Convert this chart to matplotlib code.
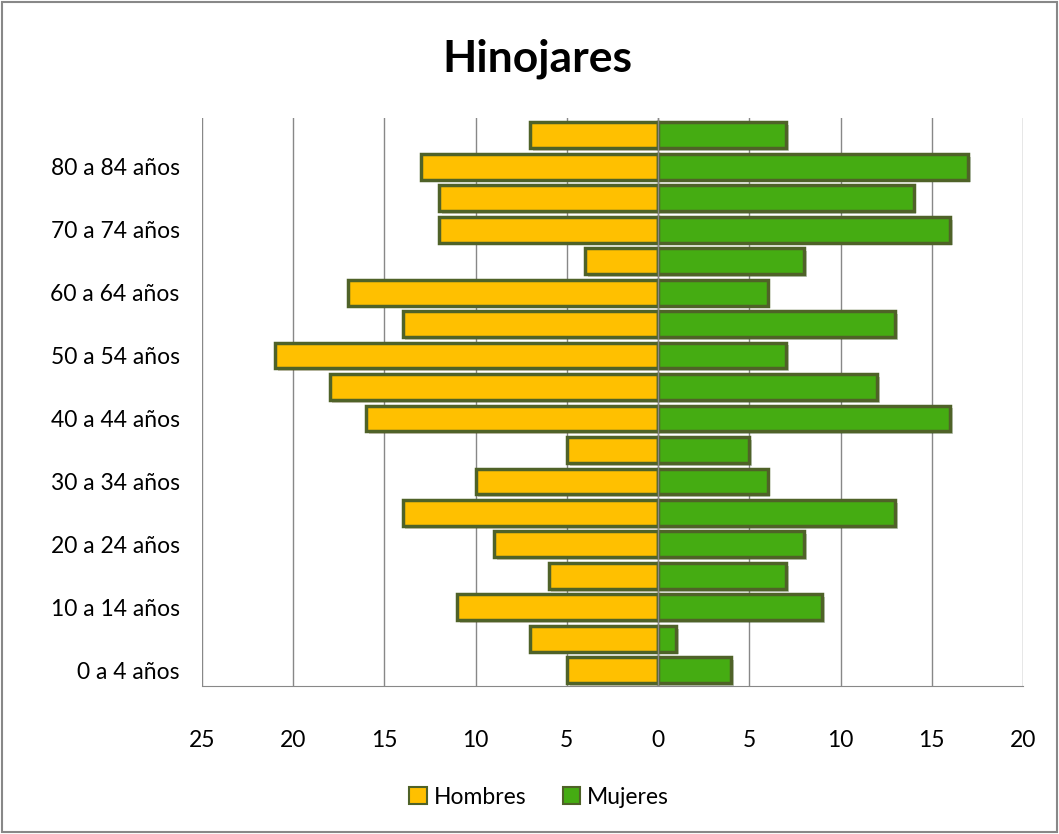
import matplotlib.pyplot as plt
import matplotlib.patheffects as pe
from matplotlib.patches import Rectangle

plt.rcParams['font.family'] = ['Lato', 'DejaVu Sans']

# Age groups, bottom to top
grupos = ["0 a 4 años", "5 a 9 años", "10 a 14 años", "15 a 19 años", "20 a 24 años",
          "25 a 29 años", "30 a 34 años", "35 a 39 años", "40 a 44 años", "45 a 49 años",
          "50 a 54 años", "55 a 59 años", "60 a 64 años", "65 a 69 años", "70 a 74 años",
          "75 a 79 años", "80 a 84 años", "85 y más"]
hombres = [5, 7, 11, 6, 9, 14, 10, 5, 16, 18, 21, 14, 17, 4, 12, 12, 13, 7]
mujeres = [4, 1, 9, 7, 8, 13, 6, 5, 16, 12, 7, 13, 6, 8, 16, 14, 17, 7]
xticks = [-25, -20, -15, -10, -5, 0, 5, 10, 15, 20]

amarillo = "#FFC000"
verde = "#45AC12"
borde = "#4F6228"

fig = plt.figure(figsize=(10.59, 8.34), dpi=100)
ax = fig.add_axes([0.1907, 0.1775, 0.7753, 0.681])

y = range(len(grupos))
sombra = [pe.SimplePatchShadow(offset=(2, -2), alpha=0.25), pe.Normal()]
bh = ax.barh(y, [-v for v in hombres], height=0.82, color=amarillo, edgecolor=borde,
             linewidth=2.5, label="Hombres", zorder=3)
bm = ax.barh(y, mujeres, height=0.82, color=verde, edgecolor=borde,
             linewidth=2.5, label="Mujeres", zorder=3)
for b in list(bh) + list(bm):
    b.set_path_effects(sombra)

ax.set_xlim(-25, 20)
ax.set_ylim(-0.5, len(grupos) - 0.45)
ax.set_xticks(xticks)
ax.set_xticklabels([str(abs(t)) for t in xticks], fontsize=16.5)
ax.set_yticks(list(y)[::2])
ax.set_yticklabels(grupos[::2], fontsize=16.5)
ax.tick_params(length=0)
ax.tick_params(axis='x', pad=32)
ax.tick_params(axis='y', pad=16)
ax.xaxis.grid(True, color="#888888", linewidth=1, zorder=0)
ax.axvline(0, color="#888888", linewidth=1, zorder=4)
for s in ["top", "right", "left"]:
    ax.spines[s].set_visible(False)
ax.spines["bottom"].set_color("#888888")

fig.text(0.507, 0.93, "Hinojares", ha="center", va="center", fontsize=32, fontweight="bold")

leg = fig.legend(handles=[bh, bm], loc="center", bbox_to_anchor=(0.509, 0.044), ncol=2,
                 frameon=False, fontsize=16.5, handlelength=0.75, handleheight=0.75,
                 columnspacing=1.6, handletextpad=0.3)
for h in leg.legend_handles:
    h.set_linewidth(1.5)
    h.set_path_effects([])

fig.patches.append(Rectangle((0.002, 0.002), 0.996, 0.996, transform=fig.transFigure,
                             fill=False, edgecolor="#888888", linewidth=1.5))

fig.savefig("out.png", dpi=100)
